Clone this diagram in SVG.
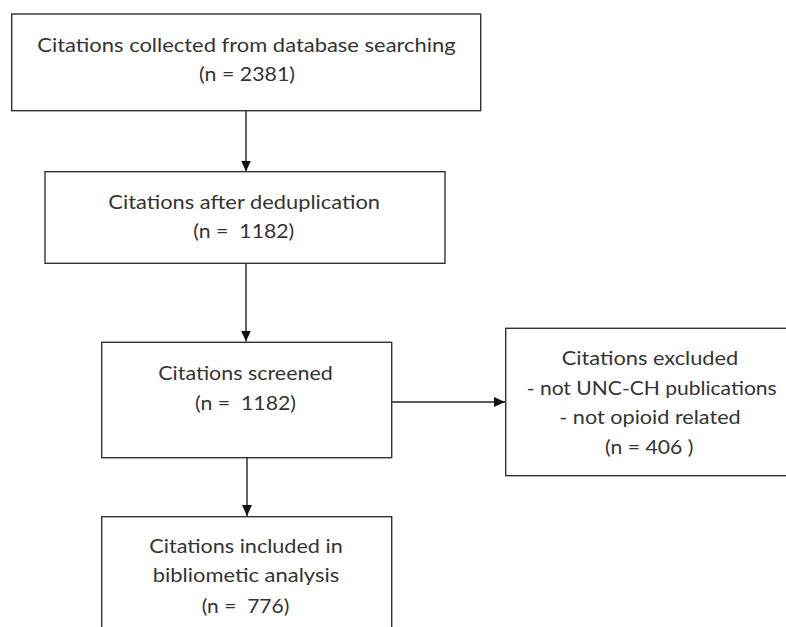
<svg xmlns="http://www.w3.org/2000/svg" width="786" height="627" viewBox="0 0 786 627">
<style>
.box{fill:#fff;stroke:#333;stroke-width:1.4}
.t{font-family:Lato,"Open Sans","Liberation Sans",sans-serif;font-size:19px;fill:#333;white-space:pre}
.c{stroke:#222;stroke-width:1.4;fill:none;marker-end:url(#ah)}
</style>
<defs>
<marker id="ah" markerUnits="userSpaceOnUse" markerWidth="12" markerHeight="12" viewBox="0 0 12 12" refX="11" refY="6" orient="auto">
<path d="M0,1 L11,6 L0,11 Z" fill="#111"/>
</marker>
</defs>
<rect width="786" height="627" fill="#fff"/>
<g id="connectors">
<line class="c" x1="246" y1="111" x2="246" y2="171.5"/>
<line class="c" x1="246" y1="263.5" x2="246" y2="341.5"/>
<line class="c" x1="247" y1="458" x2="247" y2="516"/>
<line class="c" x1="392" y1="402" x2="505" y2="402"/>
</g>
<g id="n1">
<rect class="box" x="11.7" y="14" width="469" height="96.7"/>
<text class="t" x="37.3" y="52.3" textLength="418.4" lengthAdjust="spacingAndGlyphs">Citations collected from database searching</text>
<text class="t" x="199" y="81" textLength="96" lengthAdjust="spacingAndGlyphs">(n = 2381)</text>
</g>
<g id="n2">
<rect class="box" x="45" y="171.7" width="400" height="91.6"/>
<text class="t" x="108.3" y="209.3" textLength="271.7" lengthAdjust="spacingAndGlyphs">Citations after deduplication</text>
<text class="t" x="193.3" y="238.3" textLength="101" lengthAdjust="spacingAndGlyphs">(n =  1182)</text>
</g>
<g id="n3">
<rect class="box" x="101.7" y="342.3" width="290" height="115.4"/>
<text class="t" x="158.3" y="380" textLength="174.4" lengthAdjust="spacingAndGlyphs">Citations screened</text>
<text class="t" x="195" y="410" textLength="101" lengthAdjust="spacingAndGlyphs">(n =  1182)</text>
</g>
<g id="n4">
<rect class="box" x="505.7" y="328.3" width="292" height="147.4"/>
<text class="t" x="561.7" y="365" textLength="176.6" lengthAdjust="spacingAndGlyphs">Citations excluded</text>
<text class="t" x="526.7" y="395" textLength="250" lengthAdjust="spacingAndGlyphs">- not UNC-CH publications</text>
<text class="t" x="559.3" y="424" textLength="181.4" lengthAdjust="spacingAndGlyphs">- not opioid related</text>
<text class="t" x="605" y="454" textLength="88.3" lengthAdjust="spacingAndGlyphs">(n = 406 )</text>
</g>
<g id="n5">
<rect class="box" x="101.7" y="516.7" width="290" height="130"/>
<text class="t" x="149.3" y="553.3" textLength="193.4" lengthAdjust="spacingAndGlyphs">Citations included in</text>
<text class="t" x="152.7" y="582" textLength="186.6" lengthAdjust="spacingAndGlyphs">bibliometic analysis</text>
<text class="t" x="201.7" y="613" textLength="87.6" lengthAdjust="spacingAndGlyphs">(n =  776)</text>
</g>
</svg>
